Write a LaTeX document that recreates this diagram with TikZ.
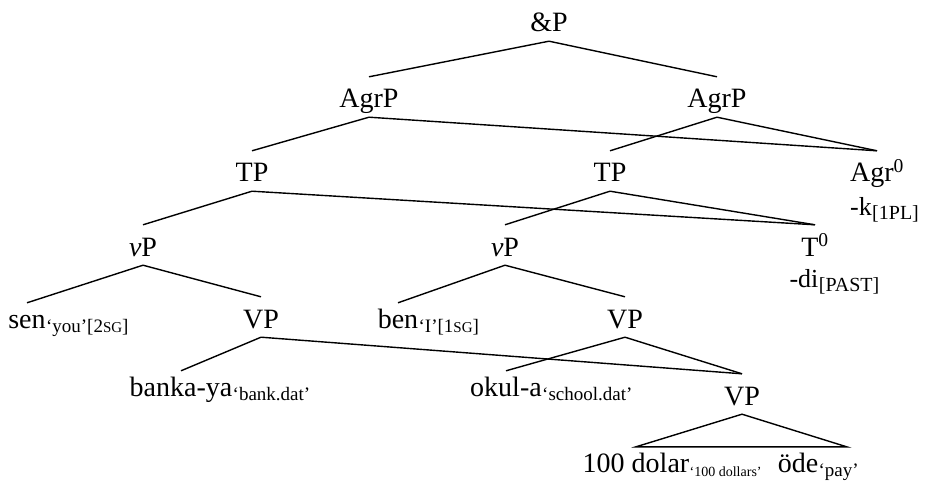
\documentclass[tikz,border=0pt]{standalone}
\usepackage{fontspec}
\setmainfont{Liberation Serif}
\usetikzlibrary{positioning}

% faked small caps for the glosses
\newcommand{\smc}[1]{{\fontsize{15}{16}\selectfont #1}}

\begin{document}
\begin{tikzpicture}[x=1pt, y=-1pt,
    lab/.style={font=\fontsize{28}{30}\selectfont, anchor=base,
                inner xsep=0pt, inner ysep=3pt,
                text height=28pt, text depth=6pt},
    leaf/.style={lab, text height=22pt},
    mrph/.style={font=\fontsize{26}{28}\selectfont, anchor=base, inner sep=0pt},
    gloss/.style={font=\fontsize{19}{20}\selectfont, anchor=base west,
                  inner sep=0pt, yshift=-4pt},
    branch/.style={line width=1.4pt}]
  \useasboundingbox (0,0) rectangle (933,486);

  % phrase labels
  \node[lab] (andP) at (549,32)  {\&P};
  \node[lab] (agrL) at (369,108) {AgrP};
  \node[lab] (agrR) at (717,108) {AgrP};
  \node[lab] (tpL)  at (252,182) {TP};
  \node[lab] (tpR)  at (610,182) {TP};
  \node[lab] (agr0) at (877,182) {Agr\textsuperscript{0}};
  \node[lab] (vpL)  at (143,256) {\textit{v}P};
  \node[lab] (vpR)  at (505,256) {\textit{v}P};
  \node[lab] (t0)   at (815,256) {T\textsuperscript{0}};
  \node[lab] (VPa)  at (261,328) {VP};
  \node[lab] (VPb)  at (625,328) {VP};
  \node[lab] (VPc)  at (742,405) {VP};

  % affixes
  \node[mrph] (kaf)  at (861,216) {-k};
  \node[gloss, font=\fontsize{20}{21}\selectfont] (kgl) at (kaf.base east) {[1PL]};
  \node[mrph] (diaf) at (804,287) {-di};
  \node[gloss, font=\fontsize{20}{21}\selectfont] (digl) at (diaf.base east) {[PAST]};

  % words
  \node[leaf] (sen)   at (27,328)  {sen};
  \node[gloss] (sengl) at (sen.base east) {‘you’[2\smc{SG}]};
  \node[leaf] (ben)   at (398,328) {ben};
  \node[gloss] (bengl) at (ben.base east) {‘I’[1\smc{SG}]};
  \node[leaf] (banka) at (181,396) {banka-ya};
  \node[gloss] (bankagl) at (banka.base east) {‘bank.dat’};
  \node[leaf] (okul)  at (506,396) {okul-a};
  \node[gloss] (okulgl) at (okul.base east) {‘school.dat’};
  \node[leaf] (dolar) at (636,472) {100 dolar};
  \node[gloss, font=\fontsize{14}{15}\selectfont] (dolargl) at (dolar.base east) {‘100 dollars’};
  \node[leaf] (ode)   at (798,472) {öde};
  \node[gloss] (odegl) at (ode.base east) {‘pay’};
  \coordinate (roofR) at (dolar.north -| odegl.center);

  % branches
  \draw[branch] (andP.south) -- (agrL.north);
  \draw[branch] (andP.south) -- (agrR.north);
  \draw[branch] (agrL.south) -- (tpL.north);
  \draw[branch] (agrL.south) -- (agr0.north);
  \draw[branch] (agrR.south) -- (tpR.north);
  \draw[branch] (agrR.south) -- (agr0.north);
  \draw[branch] (tpL.south) -- (vpL.north);
  \draw[branch] (tpL.south) -- (t0.north);
  \draw[branch] (tpR.south) -- (vpR.north);
  \draw[branch] (tpR.south) -- (t0.north);
  \draw[branch] (vpL.south) -- (sen.north);
  \draw[branch] (vpL.south) -- (VPa.north);
  \draw[branch] (vpR.south) -- (ben.north);
  \draw[branch] (vpR.south) -- (VPb.north);
  \draw[branch] (VPa.south) -- (banka.north);
  \draw[branch] (VPa.south) -- (VPc.north);
  \draw[branch] (VPb.south) -- (okul.north);
  \draw[branch] (VPb.south) -- (VPc.north);
  % roof
  \draw[branch] (VPc.south) -- (dolar.north) -- ([xshift=8pt]roofR) -- cycle;
\end{tikzpicture}
\end{document}
